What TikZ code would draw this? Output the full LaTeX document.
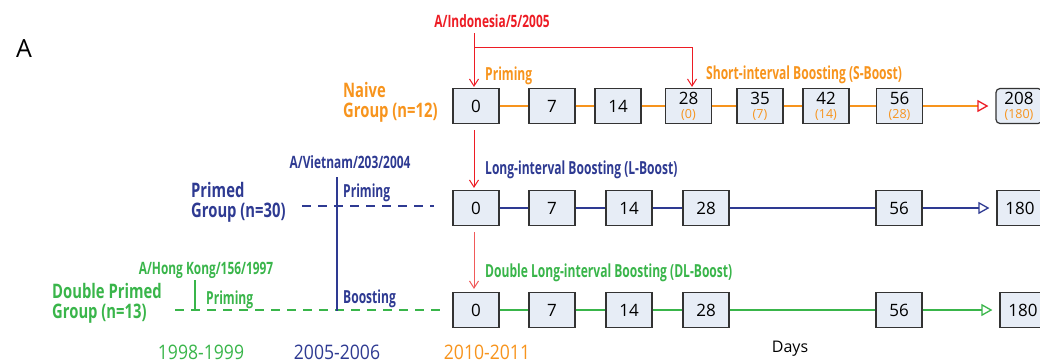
\documentclass[tikz,border=0pt]{standalone}
\usepackage{fontspec}
\setmainfont{Open Sans}
\newfontfamily\cond[FakeStretch=0.67]{Open Sans}
\newfontfamily\condb[FakeStretch=0.70]{Open Sans}
\newfontfamily\condg[FakeStretch=0.74]{Open Sans}
\newfontfamily\narrow[FakeStretch=0.88]{Open Sans}
\usetikzlibrary{arrows.meta,calc}
\definecolor{cOr}{RGB}{247,148,29}
\definecolor{cRed}{RGB}{237,28,36}
\definecolor{cRedL}{RGB}{240,90,90}
\definecolor{cBlue}{RGB}{46,58,146}
\definecolor{cGreen}{RGB}{57,181,74}
\definecolor{cFill}{RGB}{231,237,246}
\tikzset{
  box/.style={draw=black!80, fill=cFill, line width=1.2pt, minimum width=46pt, minimum height=35pt, inner sep=0pt, align=center, font=\fontsize{17}{14}\selectfont},
  lbl/.style={font=\cond\bfseries\fontsize{18}{18}\selectfont, inner sep=0pt, anchor=west},
  strain/.style={font=\condb\bfseries\fontsize{17}{17}\selectfont, inner sep=0pt},
  grp/.style={font=\condg\bfseries\fontsize{20}{20}\selectfont, align=left, inner sep=0pt, anchor=west},
  yr/.style={font=\narrow\fontsize{20}{20}\selectfont, inner sep=0pt},
  redarr/.style={draw=cRed, line width=1pt, -{Straight Barb[length=7pt,width=9pt]}},
  conn/.style={line width=1.6pt},
  tip/.style={-{Triangle[open,length=11pt,width=12pt,line width=1.3pt,#1]}, shorten >=7pt},
  dash9/.style={line width=1.4pt, dash pattern=on 9pt off 7pt},
}
\newcommand{\twol}[2]{#1\\{\color{cOr}\fontsize{12.5}{12.5}\selectfont #2}}
\begin{document}
\begin{tikzpicture}[x=1pt,y=-1pt]
\useasboundingbox (0,0) rectangle (1040,362);
% label A
\node[font=\fontsize{25}{25}\selectfont, inner sep=0pt] (lA) at (24,49) {A};
% Row 1 boxes
\node[box] (a0) at (476,106) {0};
\node[box] (a1) at (552,106) {7};
\node[box] (a2) at (618,106) {14};
\node[box] (a3) at (688.5,106) {\twol{28}{(0)}};
\node[box] (a4) at (760,106) {\twol{35}{(7)}};
\node[box] (a5) at (826,106) {\twol{42}{(14)}};
\node[box] (a6) at (899.5,106) {\twol{56}{(28)}};
\node[box, rounded corners=4pt] (a7) at (1019,106) {\twol{208}{(180)}};
% Row 2 boxes
\node[box] (b0) at (476,208) {0};
\node[box] (b1) at (552,208) {7};
\node[box] (b2) at (629,208) {14};
\node[box] (b3) at (706,208) {28};
\node[box] (b4) at (899,208) {56};
\node[box] (b5) at (1020,208) {180};
% Row 3 boxes
\node[box] (c0) at (476,310) {0};
\node[box] (c1) at (552,310) {7};
\node[box] (c2) at (629,310) {14};
\node[box] (c3) at (706,310) {28};
\node[box] (c4) at (899,310) {56};
\node[box] (c5) at (1023,310) {180};
% connectors row 1
\draw[conn, cOr] (a0) -- (a1) -- (a2) -- (a3) -- (a4) -- (a5) -- (a6);
\draw[conn, cOr, tip={color=cRed}] (a6) -- (a7);
% row 2
\draw[conn, cBlue] (b0) -- (b1) -- (b2) -- (b3) -- (b4);
\draw[conn, cBlue, tip={color=cBlue}] (b4) -- (b5);
% row 3
\draw[conn, cGreen] (c0) -- (c1) -- (c2) -- (c3) -- (c4);
\draw[conn, cGreen, tip={color=cGreen}] (c4) -- (c5);
% Group labels
\node[grp, text=cOr] (gN) at (343,102) {Naive\\Group (n=12)};
\node[grp, text=cBlue] (gP) at (191,202) {Primed\\Group (n=30)};
\node[grp, text=cGreen] (gD) at (52,303) {Double Primed\\Group (n=13)};
% strains
\node[strain, text=cRed] (indo) at (492,21) {A/Indonesia/5/2005};
\node[strain, text=cBlue] (viet) at (350,162) {A/Vietnam/203/2004};
\node[strain, text=cGreen] (hk) at (206,270) {A/Hong Kong/156/1997};
% phase labels
\node[lbl, text=cOr] (pr1) at (485,76) {Priming};
\node[lbl, text=cOr] (sb) at (706,75) {Short-interval Boosting (S-Boost)};
\node[lbl, text=cBlue] (lb) at (485,170) {Long-interval Boosting (L-Boost)};
\node[lbl, text=cGreen] (dlb) at (485,273) {Double Long-interval Boosting (DL-Boost)};
\node[lbl, text=cBlue] (pr2) at (343,193) {Priming};
\node[lbl, text=cBlue] (bst) at (343,299) {Boosting};
\node[lbl, text=cGreen] (pr3) at (206,300) {Priming};
% red arrows
\coordinate (r0) at (474,33);
\coordinate (r1) at (474,47);
\draw[redarr] (r0) -- ($(a0.north)+(-2,-1)$);
\draw[redarr] (r1) -| ($(a3.north)+(3.5,-1)$);
\draw[redarr, shorten <=6pt, shorten >=2pt] ($(a0.south)+(-2,0)$) -- ($(b0.north)+(-2,0)$);
\draw[redarr, draw=cRedL, shorten <=6pt, shorten >=3pt] ($(b0.south)+(-2,0)$) -- ($(c0.north)+(-2,0)$);
% dashed history lines
\coordinate (bd0) at (302,206);
\coordinate (gd0) at (175,310);
\draw[dash9, cBlue] (bd0) -- ($(bd0 -| b0.west)+(-18,0)$);
\draw[dash9, cGreen] (gd0) -- ($(gd0 -| c0.west)+(-11,0)$);
\coordinate (bv0) at (337,177);
\coordinate (bv1) at (337,311);
\draw[line width=1.4pt, cBlue] (bv0) -- (bv1);
\coordinate (gv0) at (195,280);
\coordinate (gv1) at (195,310);
\draw[line width=1.2pt, cGreen] (gv0) -- (gv1);
% years and days
\node[yr, text=cGreen] (y1) at (201,352) {1998-1999};
\node[yr, text=cBlue] (y2) at (337,352) {2005-2006};
\node[yr, text=cOr] (y3) at (487,352) {2010-2011};
\node[font=\fontsize{16}{16}\selectfont, inner sep=0pt] (days) at (790,349) {Days};
\end{tikzpicture}
\end{document}
